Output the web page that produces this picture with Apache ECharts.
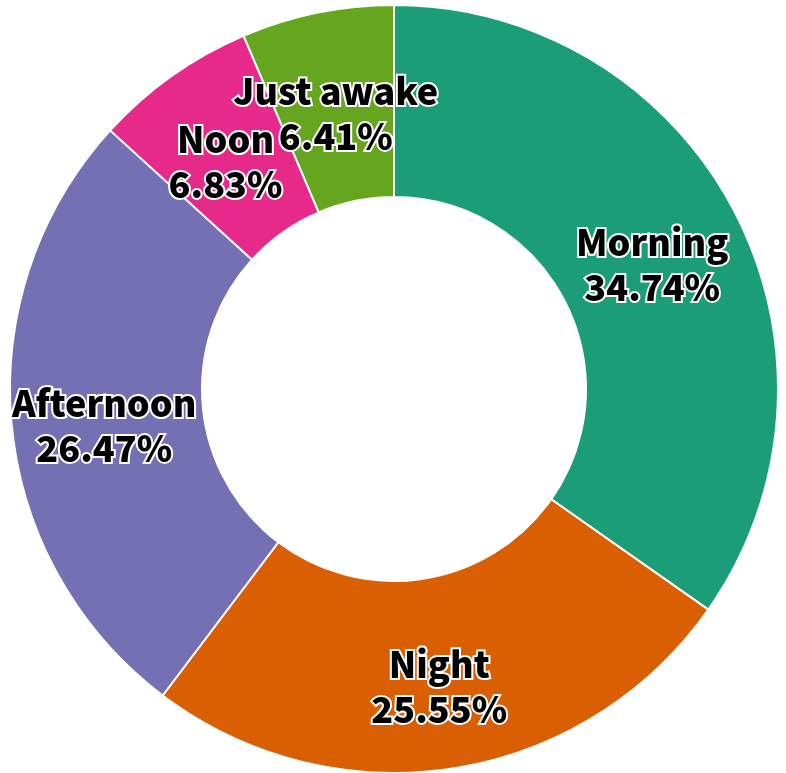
<!DOCTYPE html>
<html>
<head>
<meta charset="utf-8">
<script src="https://cdn.jsdelivr.net/npm/echarts@6/dist/echarts.min.js"></script>
<style>
  html, body { margin: 0; padding: 0; background: #fff; }
  #main { width: 786px; height: 773px; }
</style>
</head>
<body>
<div id="main"></div>
<script>
// 数据
var categories = ['Morning', 'Night', 'Afternoon', 'Noon', 'Just awake'];
var shares = [34.74, 25.55, 26.47, 6.83, 6.41];
var colors = ['#1b9e77', '#d95f02', '#7570b3', '#e7298a', '#66a61e'];

(function () {
	var myChart = echarts.init(document.getElementById('main'));
	var data = categories.map(function (name, i) {
		return { name: name, value: shares[i] };
	});
	var option = {
		color: colors,
		animation: false,
		series: [{
			type: 'pie',
			center: [394, 389],
			radius: [192, 384],
			startAngle: 90,
			clockwise: true,
			avoidLabelOverlap: false,
			data: data,
			itemStyle: {
				borderColor: '#fff',
				borderWidth: 2
			},
			label: {
				show: true,
				position: 'inside',
				formatter: function (p) {
					return p.name + '\n' + p.value.toFixed(2) + '%';
				},
				color: '#000',
				fontFamily: 'Noto Sans CJK SC',
				fontWeight: 900,
				fontSize: 36,
				lineHeight: 45,
				offset: [0, 10],
				textBorderColor: '#fff',
				textBorderWidth: 4
			},
			labelLayout: { hideOverlap: false },
			labelLine: { show: false }
		}]
	};
	myChart.setOption(option);
})();
</script>
</body>
</html>
